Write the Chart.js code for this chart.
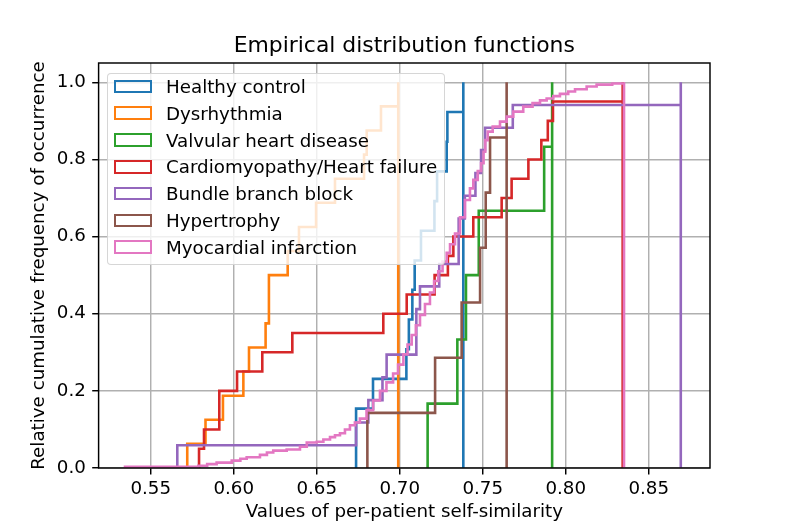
<!DOCTYPE html>
<html>
<head>
<meta charset="utf-8">
<title>Empirical distribution functions</title>
<script src="https://cdn.jsdelivr.net/npm/chart.js@4.4.0/dist/chart.umd.min.js"></script>
<style>
  body { margin: 0; background: #fff; }
  #wrap { position: relative; width: 789px; height: 526px; }
  #title {
    position: absolute; left: 98.6px; top: 32.4px; width: 611.4px; height: 26px;
    line-height: 26px; text-align: center; white-space: nowrap;
    font-family: 'DejaVu Sans', sans-serif; font-size: 21.9px; color: #000;
  }
  #legend {
    position: absolute; left: 107px; top: 73px; width: 338px; height: 192px;
    box-sizing: border-box; background: rgba(255, 255, 255, 0.8);
    border: 1.5px solid rgba(204, 204, 204, 0.8); border-radius: 4px;
    font-family: 'DejaVu Sans', sans-serif; font-size: 18.26px; color: #000;
  }
  .row { position: absolute; left: 0; height: 26.77px; display: flex; align-items: center; white-space: nowrap; }
  .swatch { width: 38.5px; height: 13.5px; box-sizing: border-box; border: 2.6px solid; margin-left: 5.5px; margin-right: 14px; }
</style>
</head>
<body>
<div id="wrap">
  <canvas id="chart" width="789" height="526"></canvas>
  <div id="title">Empirical distribution functions</div>
  <div id="legend"></div>
</div>
<script>
// ---------- data: [value, cumulative fraction] ----------

const labels = [
  'Healthy control',
  'Dysrhythmia',
  'Valvular heart disease',
  'Cardiomyopathy/Heart failure',
  'Bundle branch block',
  'Hypertrophy',
  'Myocardial infarction'
];
const colors = ['#1f77b4', '#ff7f0e', '#2ca02c', '#d62728', '#9467bd', '#8c564b', '#e377c2'];

const healthySteps = [
  [0.6737, 0.154], [0.6839, 0.231], [0.7040, 0.308], [0.7055, 0.385], [0.7076, 0.462],
  [0.7090, 0.538], [0.7128, 0.615], [0.7209, 0.692], [0.7225, 0.769], [0.7283, 0.846],
  [0.7287, 0.923], [0.7383, 1.0]
];
const dysrhythmiaSteps = [
  [0.5720, 0.0625], [0.5830, 0.125], [0.5935, 0.1875], [0.6058, 0.25], [0.6092, 0.3125],
  [0.6192, 0.375], [0.6212, 0.5], [0.6325, 0.5625], [0.6393, 0.625], [0.6496, 0.6875],
  [0.6610, 0.75], [0.6785, 0.8125], [0.6801, 0.875], [0.6887, 0.9375], [0.6991, 1.0]
];
const valvularSteps = [
  [0.7168, 0.167], [0.7347, 0.333], [0.7399, 0.5], [0.7476, 0.667], [0.7870, 0.833],
  [0.7918, 1.0]
];
const cardioSteps = [
  [0.5791, 0.05], [0.5821, 0.10], [0.5913, 0.20], [0.6020, 0.25], [0.6172, 0.30],
  [0.6353, 0.35], [0.6901, 0.40], [0.7042, 0.45], [0.7210, 0.50], [0.7290, 0.55],
  [0.7323, 0.60], [0.7443, 0.65], [0.7614, 0.70], [0.7674, 0.75], [0.7775, 0.80],
  [0.7853, 0.85], [0.7892, 0.90], [0.7923, 0.95], [0.8343, 1.0]
];
const bundleSteps = [
  [0.5660, 0.059], [0.6737, 0.118], [0.6811, 0.176], [0.6896, 0.235], [0.6921, 0.294],
  [0.7100, 0.412], [0.7122, 0.471], [0.7238, 0.529], [0.7355, 0.647], [0.7392, 0.706],
  [0.7456, 0.765], [0.7490, 0.824], [0.7514, 0.882], [0.7681, 0.941], [0.8693, 1.0]
];
const hypertrophySteps = [
  [0.6805, 0.143], [0.7213, 0.286], [0.7373, 0.429], [0.7484, 0.571], [0.7518, 0.714],
  [0.7544, 0.857], [0.7644, 1.0]
];
const infarctionSteps = [
  [0.5345, 0.003], [0.5787, 0.006], [0.5840, 0.010], [0.5897, 0.014], [0.5988, 0.019],
  [0.6040, 0.024], [0.6078, 0.028], [0.6158, 0.034], [0.6200, 0.040], [0.6238, 0.045],
  [0.6319, 0.048], [0.6399, 0.055], [0.6440, 0.066], [0.6500, 0.068], [0.6540, 0.074],
  [0.6580, 0.080], [0.6610, 0.085], [0.6640, 0.090], [0.6670, 0.100], [0.6700, 0.111],
  [0.6730, 0.118], [0.6760, 0.128], [0.6800, 0.150], [0.6840, 0.175], [0.6881, 0.200],
  [0.6920, 0.222], [0.6960, 0.245], [0.6990, 0.268], [0.7022, 0.295], [0.7047, 0.320],
  [0.7072, 0.345], [0.7097, 0.370], [0.7122, 0.397], [0.7152, 0.425], [0.7182, 0.455],
  [0.7207, 0.485], [0.7232, 0.510], [0.7258, 0.535], [0.7283, 0.558], [0.7303, 0.580],
  [0.7333, 0.608], [0.7363, 0.650], [0.7393, 0.695], [0.7423, 0.725], [0.7443, 0.747],
  [0.7470, 0.770], [0.7490, 0.790], [0.7505, 0.820], [0.7515, 0.850], [0.7530, 0.872],
  [0.7560, 0.885], [0.7604, 0.898], [0.7644, 0.911], [0.7684, 0.924], [0.7744, 0.937],
  [0.7800, 0.946], [0.7845, 0.953], [0.7885, 0.958], [0.7925, 0.964], [0.7965, 0.970],
  [0.8015, 0.976], [0.8056, 0.982], [0.8126, 0.989], [0.8186, 0.994], [0.8280, 0.997],
  [0.8351, 1.0]
];

const allSteps = [healthySteps, dysrhythmiaSteps, valvularSteps, cardioSteps,
  bundleSteps, hypertrophySteps, infarctionSteps];

const xTicks = [0.55, 0.60, 0.65, 0.70, 0.75, 0.80, 0.85];
const yTicks = [0.0, 0.2, 0.4, 0.6, 0.8, 1.0];
const xMin = 0.5186, xMax = 0.8869;
const yMin = 0, yMax = 1.05;

// ---------- helpers ----------

// step outline like a cumulative step histogram: rise from 0, steps, drop back to 0
function outline(steps) {
  const pts = [{ x: steps[0][0], y: 0 }];
  steps.forEach(s => pts.push({ x: s[0], y: s[1] }));
  pts.push({ x: steps[steps.length - 1][0], y: 0 });
  return pts;
}

const frame = {
  id: 'frame',
  afterDatasetsDraw(chart) {
    const { ctx, chartArea: a } = chart;
    ctx.save();
    ctx.strokeStyle = '#000';
    ctx.lineWidth = 1.46;
    ctx.strokeRect(a.left, a.top, a.right - a.left, a.bottom - a.top);
    ctx.restore();
  }
};

// ---------- chart ----------

Chart.defaults.font.family = "'DejaVu Sans', sans-serif";
Chart.defaults.font.size = 18.26;
Chart.defaults.color = '#000';

const datasets = allSteps.map((steps, i) => ({
  label: labels[i],
  data: outline(steps),
  borderColor: colors[i],
  borderWidth: 2.6,
  borderJoinStyle: 'miter',
  stepped: 'before',
  pointRadius: 0,
  fill: false,
  tension: 0,
  order: allSteps.length - i
}));

const gridOpts = { color: '#b0b0b0', lineWidth: 1.46, tickColor: '#000', tickWidth: 1.46, tickLength: 6.4 };

new Chart(document.getElementById('chart'), {
  type: 'line',
  data: { datasets },
  options: {
    responsive: false,
    animation: false,
    events: [],
    layout: { padding: { left: 0, top: 63, right: 79, bottom: 0 } },
    plugins: {
      legend: { display: false },
      tooltip: { enabled: false },
      title: { display: false }
    },
    scales: {
      x: {
        type: 'linear',
        min: xMin,
        max: xMax,
        afterBuildTicks: s => { s.ticks = xTicks.map(v => ({ value: v })); },
        afterFit: s => { s.height = 58; },
        grid: gridOpts,
        border: { display: false },
        ticks: { padding: 4, maxRotation: 0, autoSkip: false, callback: v => v.toFixed(2) },
        title: { display: true, text: 'Values of per-patient self-similarity', padding: { top: 0, bottom: 3 } }
      },
      y: {
        type: 'linear',
        min: yMin,
        max: yMax,
        afterBuildTicks: s => { s.ticks = yTicks.map(v => ({ value: v })); },
        afterFit: s => { s.width = 98.6; },
        grid: gridOpts,
        border: { display: false },
        ticks: { padding: 6.4, callback: v => v.toFixed(1) },
        title: { display: true, text: 'Relative cumulative frequency of occurrence', padding: { top: 28, bottom: 0 } }
      }
    }
  },
  plugins: [frame]
});

// ---------- legend (drawn over the plot, semi-transparent like the original) ----------

const legend = document.getElementById('legend');
labels.forEach((name, i) => {
  const row = document.createElement('div');
  row.className = 'row';
  row.style.top = (-0.9 + 26.77 * i) + 'px';
  row.innerHTML = `<span class="swatch" style="border-color:${colors[i]}"></span><span>${name}</span>`;
  legend.appendChild(row);
});
</script>
</body>
</html>
